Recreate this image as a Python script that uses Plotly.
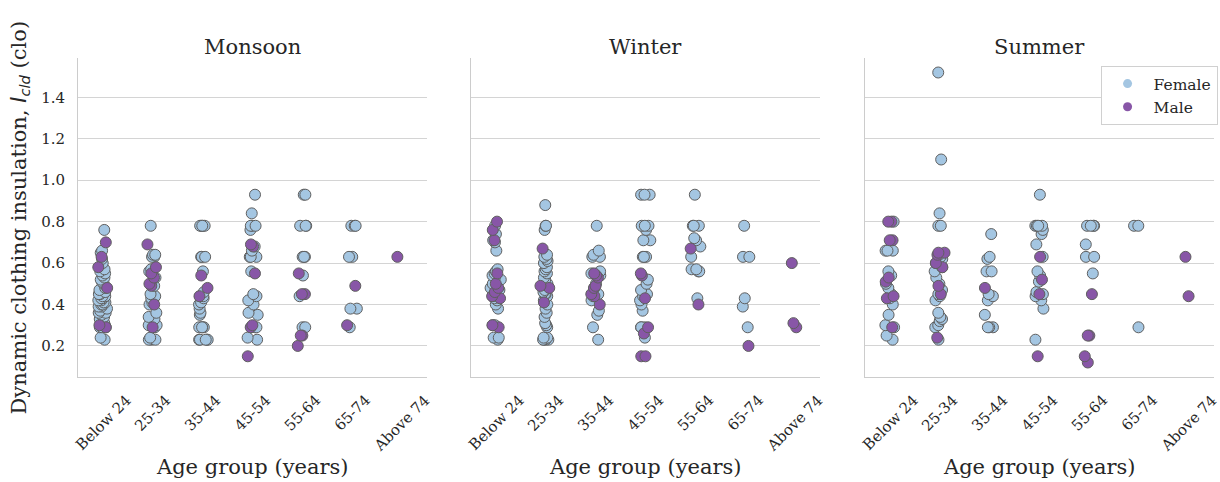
import plotly.graph_objects as go

categories = ["Below 24", "25-34", "35-44", "45-54", "55-64", "65-74", "Above 74"]
seasons = ["Monsoon", "Winter", "Summer"]

# values per age group (same order as categories)
monsoon_female = [
    [0.76, 0.66, 0.65, 0.62, 0.60, 0.57, 0.56, 0.55, 0.54, 0.53, 0.52, 0.51, 0.50, 0.48, 0.47, 0.46,
     0.45, 0.45, 0.44, 0.44, 0.43, 0.43, 0.42, 0.42, 0.41, 0.41, 0.40, 0.40, 0.39, 0.39, 0.38, 0.37,
     0.36, 0.36, 0.35, 0.34, 0.33, 0.32, 0.31, 0.30, 0.30, 0.29, 0.29, 0.29, 0.24, 0.23],
    [0.78, 0.64, 0.64, 0.63, 0.63, 0.57, 0.56, 0.53, 0.49, 0.45, 0.44, 0.43, 0.42, 0.41, 0.40, 0.36,
     0.34, 0.33, 0.30, 0.30, 0.29, 0.29, 0.24, 0.23, 0.23, 0.23],
    [0.78, 0.78, 0.78, 0.78, 0.78, 0.63, 0.63, 0.63, 0.56, 0.46, 0.44, 0.44, 0.43, 0.41, 0.40, 0.38,
     0.36, 0.35, 0.29, 0.29, 0.29, 0.29, 0.23, 0.23, 0.23, 0.23, 0.23],
    [0.93, 0.84, 0.78, 0.78, 0.78, 0.76, 0.68, 0.66, 0.63, 0.63, 0.63, 0.56, 0.45, 0.44, 0.42, 0.40,
     0.36, 0.35, 0.29, 0.29, 0.29, 0.24, 0.23],
    [0.93, 0.93, 0.78, 0.78, 0.78, 0.63, 0.63, 0.63, 0.54, 0.44, 0.29, 0.29],
    [0.78, 0.78, 0.78, 0.63, 0.63, 0.38, 0.38, 0.29],
    [],
]
monsoon_male = [
    [0.70, 0.63, 0.58, 0.48, 0.30, 0.29],
    [0.69, 0.58, 0.55, 0.53, 0.50, 0.49, 0.40, 0.29],
    [0.54, 0.48, 0.44],
    [0.69, 0.68, 0.55, 0.30, 0.29, 0.15],
    [0.55, 0.45, 0.45, 0.25, 0.25, 0.20],
    [0.49, 0.30],
    [0.63],
]
winter_female = [
    [0.78, 0.74, 0.71, 0.70, 0.66, 0.57, 0.56, 0.55, 0.54, 0.53, 0.52, 0.50, 0.48, 0.47, 0.46, 0.45,
     0.44, 0.43, 0.42, 0.40, 0.38, 0.30, 0.30, 0.24, 0.24, 0.23],
    [0.88, 0.78, 0.78, 0.76, 0.64, 0.63, 0.62, 0.61, 0.60, 0.58, 0.57, 0.56, 0.55, 0.53, 0.52, 0.50,
     0.47, 0.46, 0.45, 0.45, 0.44, 0.42, 0.40, 0.38, 0.36, 0.34, 0.31, 0.30, 0.29, 0.24, 0.24, 0.23,
     0.23, 0.23, 0.23],
    [0.78, 0.66, 0.64, 0.63, 0.63, 0.56, 0.55, 0.54, 0.50, 0.48, 0.45, 0.44, 0.42, 0.37, 0.35, 0.29, 0.23],
    [0.93, 0.93, 0.93, 0.78, 0.78, 0.78, 0.76, 0.71, 0.71, 0.63, 0.63, 0.63, 0.52, 0.50, 0.47, 0.45,
     0.44, 0.42, 0.40, 0.37, 0.29, 0.29, 0.29, 0.24],
    [0.93, 0.78, 0.78, 0.78, 0.72, 0.71, 0.68, 0.63, 0.57, 0.57, 0.56, 0.56, 0.43],
    [0.78, 0.63, 0.63, 0.43, 0.39, 0.29],
    [],
]
winter_male = [
    [0.80, 0.76, 0.71, 0.55, 0.50, 0.48, 0.46, 0.44, 0.43, 0.30, 0.29],
    [0.67, 0.49, 0.48, 0.41],
    [0.55, 0.54, 0.53, 0.49, 0.48, 0.45, 0.44, 0.40],
    [0.55, 0.54, 0.43, 0.29, 0.26, 0.15, 0.15],
    [0.67, 0.40],
    [0.20],
    [0.60, 0.31, 0.29],
]
summer_female = [
    [0.80, 0.66, 0.66, 0.66, 0.56, 0.54, 0.50, 0.48, 0.45, 0.43, 0.40, 0.35, 0.30, 0.29, 0.25, 0.23],
    [1.52, 1.10, 0.84, 0.78, 0.78, 0.64, 0.63, 0.62, 0.60, 0.58, 0.56, 0.53, 0.50, 0.47, 0.45, 0.44,
     0.42, 0.36, 0.34, 0.33, 0.32, 0.30, 0.29, 0.23],
    [0.74, 0.63, 0.62, 0.56, 0.56, 0.45, 0.44, 0.42, 0.35, 0.29, 0.29, 0.29],
    [0.93, 0.78, 0.78, 0.78, 0.78, 0.76, 0.74, 0.69, 0.63, 0.56, 0.54, 0.51, 0.46, 0.45, 0.44, 0.42,
     0.38, 0.23],
    [0.78, 0.78, 0.78, 0.78, 0.69, 0.63, 0.63, 0.55],
    [0.78, 0.78, 0.29],
    [],
]
summer_male = [
    [0.80, 0.80, 0.71, 0.71, 0.53, 0.51, 0.44, 0.43, 0.29],
    [0.65, 0.65, 0.64, 0.60, 0.58, 0.49, 0.45, 0.24],
    [0.48],
    [0.63, 0.52, 0.45, 0.15],
    [0.45, 0.25, 0.25, 0.15, 0.12],
    [],
    [0.63, 0.44],
]

FEMALE_COLOR = "#a4c6e2"
MALE_COLOR = "#8856a7"
EDGE = "#5f5f5f"
TEXT = "#262626"
GRID = "#d4d4d4"
FONT = "DejaVu Serif"

W, H = 1220, 482
panel_px = [(78, 427), (471, 820), (865, 1214)]
plot_top, plot_bottom = 58, 377
ydom = [1 - plot_bottom / H, 1 - plot_top / H]

season_data = [
    (monsoon_female, monsoon_male),
    (winter_female, winter_male),
    (summer_female, summer_male),
]

fig = go.Figure()


def flat(nested):
    xs, ys = [], []
    for cat, vals in zip(categories, nested):
        for v in vals:
            xs.append(cat)
            ys.append(v)
    return xs, ys


for i, (fem, mal) in enumerate(season_data):
    ax = "" if i == 0 else str(i + 1)
    for nested, color in ((fem, FEMALE_COLOR), (mal, MALE_COLOR)):
        xs, ys = flat(nested)
        fig.add_trace(go.Box(
            x=xs, y=ys, xaxis="x" + ax, yaxis="y" + ax,
            boxpoints="all", jitter=0.55, pointpos=0, width=0.4,
            line=dict(width=0, color="rgba(0,0,0,0)"), fillcolor="rgba(0,0,0,0)",
            whiskerwidth=0,
            marker=dict(color=color, size=11, line=dict(width=1, color=EDGE)),
            showlegend=False, hoveron="points",
        ))

# legend entries
for name, color in (("Female", FEMALE_COLOR), ("Male", MALE_COLOR)):
    fig.add_trace(go.Scatter(x=[None], y=[None], mode="markers", name=name,
                             marker=dict(color=color, size=9), xaxis="x3", yaxis="y3"))

layout = dict(
    width=W, height=H, margin=dict(l=0, r=0, t=0, b=0),
    paper_bgcolor="white", plot_bgcolor="white",
    boxmode="overlay",
    font=dict(family=FONT, color=TEXT, size=15),
    legend=dict(x=0.998, xanchor="right", y=1 - 66 / H, yanchor="top",
                bgcolor="white", bordercolor="#d0d0d0", borderwidth=1,
                font=dict(family=FONT, size=15.5, color=TEXT), itemwidth=42,
                tracegroupgap=0),
)
annotations = []
for i, (x0, x1) in enumerate(panel_px):
    ax = "" if i == 0 else str(i + 1)
    xkey = "xaxis" + ax
    ykey = "yaxis" + ax
    layout[xkey] = dict(
        domain=[x0 / W, x1 / W], anchor="y" + ax,
        type="category", categoryorder="array", categoryarray=categories,
        range=[-0.5, 6.5], showgrid=False, showline=True, linecolor="#cccccc",
        linewidth=1, showticklabels=False, ticks="", zeroline=False, fixedrange=True,
    )
    layout[ykey] = dict(
        domain=ydom, anchor="x" + ax, range=[0.05, 1.59], dtick=0.2, tick0=0,
        showgrid=True, gridcolor=GRID, gridwidth=1, showline=True, linecolor="#cccccc",
        linewidth=1, zeroline=False, showticklabels=(i == 0), ticks="",
        ticklabelstandoff=9, tickfont=dict(size=15, family=FONT, color=TEXT),
        tickformat=".1f",
    )
    if i > 0:
        layout[ykey]["matches"] = "y"
    cx = (x0 + x1) / 2 / W
    annotations.append(dict(text=seasons[i], x=cx, y=1 - 47 / H, xref="paper", yref="paper",
                            showarrow=False, xanchor="center", yanchor="middle",
                            font=dict(size=21, family=FONT, color=TEXT)))
    annotations.append(dict(text="Age group (years)", x=cx, y=1 - 467 / H, xref="paper",
                            yref="paper", showarrow=False, xanchor="center", yanchor="middle",
                            font=dict(size=21, family=FONT, color=TEXT)))
    for j, cat in enumerate(categories):
        annotations.append(dict(text=cat, x=j, xref="x" + ax, y=1 - 390 / H, yref="paper",
                                showarrow=False, textangle=-45, xanchor="center",
                                yanchor="top", borderpad=0,
                                font=dict(size=15, family=FONT, color=TEXT)))

annotations.append(dict(
    text="Dynamic clothing insulation, <span style='font-family:DejaVu Sans'><i>I</i><sub><i>cld</i></sub></span> (clo)",
    x=20 / W, y=(ydom[0] + ydom[1]) / 2, xref="paper", yref="paper", showarrow=False,
    textangle=-90, xanchor="center", yanchor="middle",
    font=dict(size=21, family=FONT, color=TEXT)))

layout["annotations"] = annotations
fig.update_layout(**layout)
fig.write_html("out.html")
